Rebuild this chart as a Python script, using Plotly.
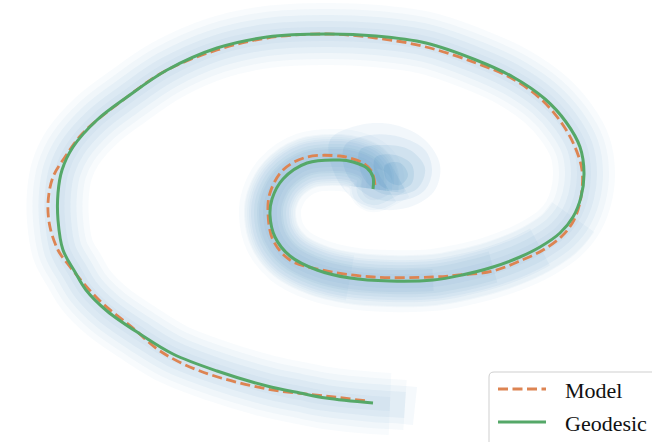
import plotly.graph_objects as go

# Geodesic path through the latent spiral (x, y in plot units), inner end first
geo_x = [4.3, 4.3, 3.7, 2.3, 1.0, -2.3, -4.7, -5.8, -6.0, -5.5, -4.0, -1.3, 2.0, 6.0,
         10.3, 13.2, 16.3, 19.0, 21.0, 23.0, 24.3, 25.1, 25.4, 25.0, 23.6, 21.5, 18.3,
         14.6, 9.6, 4.6, -0.4, -6.3, -11.3, -16.3, -20.3, -23.3, -25.7, -26.8, -27.2,
         -27.2, -26.7, -25.5, -24.4, -22.3, -19.0, -15.7, -11.3, -6.3, -3.0, -0.4, 4.3]
geo_y = [3.1, 4.3, 5.2, 5.8, 6.0, 5.7, 4.1, 2.1, 0.5, -1.7, -3.6, -5.0, -5.8, -6.1,
         -6.0, -5.5, -4.7, -3.7, -2.7, -1.3, 0.3, 2.3, 4.7, 7.3, 9.8, 12.1, 14.3,
         16.0, 17.7, 18.4, 18.6, 18.3, 17.2, 15.0, 12.3, 10.0, 7.3, 5.0, 2.7,
         0.0, -3.0, -5.2, -7.0, -9.1, -11.4, -13.4, -15.1, -16.6, -17.3, -17.8, -18.3]

# Model curve
model_x = [4.5, 4.2, 3.3, 2.0, 1.0, -2.3, -4.7, -6.0, -6.2, -5.7, -4.0, -0.8, 4.3, 10.3,
           12.9, 16.3, 19.2, 21.3, 23.2, 24.4, 25.1, 25.2, 24.5, 23.3, 21.3, 18.3, 14.6,
           9.6, 4.6, -0.4, -6.3, -11.3, -16.3, -20.3, -24.7, -26.5, -27.7, -28.2, -28.0,
           -27.2, -26.3, -23.0, -19.7, -17.0, -13.0, -6.3, -0.4, 3.7]
model_y = [3.5, 4.8, 5.7, 6.2, 6.4, 6.3, 5.0, 2.7, 0.7, -2.0, -4.0, -5.0, -5.7, -5.7,
           -5.5, -5.1, -4.0, -3.0, -1.6, 0.0, 2.3, 5.0, 7.3, 9.5, 11.9, 14.1, 15.7,
           17.3, 18.2, 18.6, 18.2, 17.0, 15.0, 12.3, 8.7, 6.3, 4.3, 1.7, -0.7,
           -3.0, -4.3, -8.1, -10.8, -13.1, -15.1, -16.9, -17.6, -18.1]

# Sample cloud: its sparse tail beyond the outer end and its head inside the core
tail_x = [6.0, 7.5, 8.5]
tail_y = [-18.4, -18.5, -18.6]
head_x = [6.8, 5.5]
head_y = [4.3, 3.6]

# Density outlines of the sample core around the spiral's centre (light to dark)
core_levels = [
    ([0.0, 3.0, 6.5, 9.5, 11.0, 10.5, 8.5, 5.5, 2.5, 0.5],
     [8.0, 9.5, 9.5, 8.0, 5.5, 3.0, 1.5, 1.0, 2.0, 4.5]),
    ([1.5, 4.0, 7.0, 9.5, 10.2, 9.5, 7.5, 5.0, 3.0, 1.5],
     [7.5, 8.5, 8.3, 7.0, 5.0, 3.0, 2.0, 2.0, 3.0, 5.0]),
    ([3.0, 5.5, 8.0, 9.5, 8.8, 6.8, 4.8, 3.2],
     [7.0, 7.5, 7.0, 5.2, 3.2, 2.5, 2.8, 4.5]),
    ([4.5, 6.5, 8.2, 8.2, 6.8, 5.0],
     [6.2, 6.5, 5.5, 3.7, 3.0, 3.5]),
    ([5.5, 7.0, 7.8, 7.0, 5.7],
     [5.5, 5.7, 4.5, 3.5, 4.0]),
]
core_alpha = [0.06, 0.07, 0.09, 0.10, 0.10]

BLUE = "31,119,180"
ORANGE = "#DD8452"
GREEN = "#55A868"
DASH = "10px,4.5px"

fig = go.Figure()

def band(xs, ys, width, alpha):
    fig.add_trace(go.Scatter(x=xs, y=ys, mode="lines",
                             line=dict(color=f"rgba({BLUE},{alpha})", width=width, shape="spline"),
                             hoverinfo="skip", showlegend=False))

# soft sample cloud: stacked translucent bands whose ends are staggered
for w, a, k in [(62, 0.03, 1), (50, 0.035, 2), (38, 0.045, 3), (26, 0.05, 2), (14, 0.035, 1)]:
    band(geo_x + tail_x[:k], geo_y + tail_y[:k], w, a)

# the inner turn holds more samples per unit length
for w, a, n, h in [(52, 0.035, 21, 0), (42, 0.045, 19, 1), (32, 0.05, 17, 2),
                   (22, 0.05, 15, 1), (46, 0.03, 13, 2)]:
    band(head_x[2 - h:] + geo_x[:n], head_y[2 - h:] + geo_y[:n], w, a)

for (cx, cy), a in zip(core_levels, core_alpha):
    fig.add_trace(go.Scatter(x=cx + cx[:1], y=cy + cy[:1], mode="lines", fill="toself",
                             fillcolor=f"rgba({BLUE},{a})",
                             line=dict(width=0, shape="spline", color="rgba(0,0,0,0)"),
                             hoverinfo="skip", showlegend=False))

fig.add_trace(go.Scatter(x=model_x, y=model_y, mode="lines", name="Model",
                         line=dict(color=ORANGE, width=2.8, dash=DASH, shape="spline"),
                         showlegend=False))
fig.add_trace(go.Scatter(x=geo_x, y=geo_y, mode="lines", name="Geodesic",
                         line=dict(color=GREEN, width=3, shape="spline"),
                         showlegend=False))

# legend box (rounded, anchored to lower-right corner)
W, H = 652, 442
def px(x):
    return x / W
def py(y):
    return 1 - y / H

left, top, r = 489, 372, 5
box = (f"M {px(left)},{py(H + 5)} L {px(left)},{py(top + r)} "
       f"Q {px(left)},{py(top)} {px(left + r)},{py(top)} "
       f"L {px(W + 5)},{py(top)} L {px(W + 5)},{py(H + 5)} Z")
shapes = [dict(type="path", xref="paper", yref="paper", path=box,
               line=dict(color="#cfcfcf", width=1), fillcolor="rgba(255,255,255,0.85)")]
entries = [("Model", ORANGE, DASH, 389), ("Geodesic", GREEN, "solid", 422)]
annotations = []
for label, col, dash, yy in entries:
    shapes.append(dict(type="line", xref="paper", yref="paper",
                       x0=px(498), x1=px(546), y0=py(yy), y1=py(yy),
                       line=dict(color=col, width=3 if dash == "solid" else 2.8, dash=dash)))
    annotations.append(dict(text=label, xref="paper", yref="paper", x=px(563), y=py(yy + 1),
                            xanchor="left", yanchor="middle", showarrow=False,
                            font=dict(family="Liberation Serif, serif", size=22, color="#111111")))

fig.update_layout(
    width=W, height=H,
    margin=dict(l=0, r=0, t=0, b=0),
    paper_bgcolor="white", plot_bgcolor="white",
    xaxis=dict(range=[-33, 32.2], visible=False, showgrid=False, zeroline=False),
    yaxis=dict(range=[-22.2, 22], visible=False, showgrid=False, zeroline=False),
    shapes=shapes, annotations=annotations,
)

fig.write_html("out.html")
